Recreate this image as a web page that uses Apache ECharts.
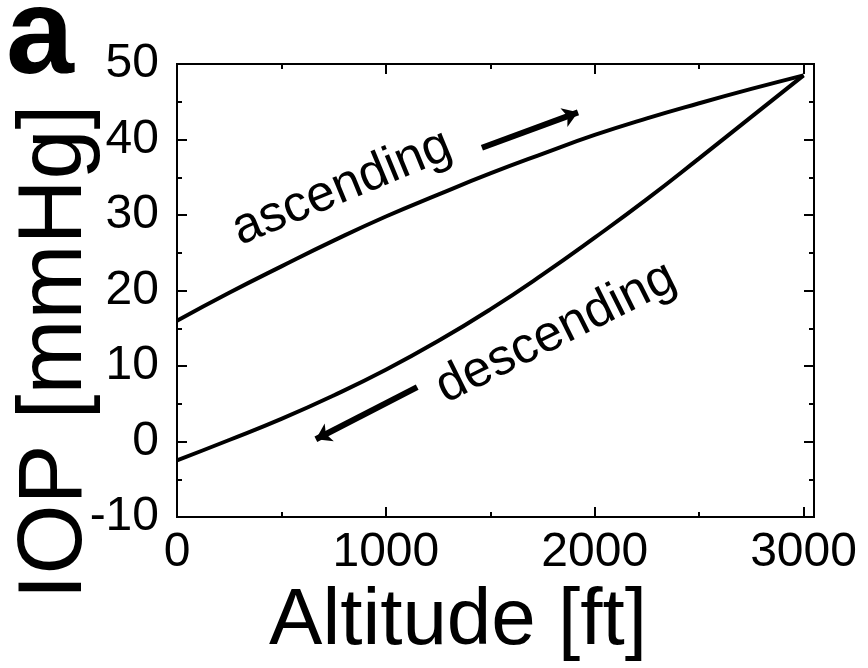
<!DOCTYPE html>
<html>
<head>
<meta charset="utf-8">
<script src="https://cdn.jsdelivr.net/npm/echarts@6/dist/echarts.min.js"></script>
<style>
html, body { margin: 0; padding: 0; background: #fff; }
#chart { width: 868px; height: 668px; }
</style>
</head>
<body>
<div id="chart"></div>
<script>
// altitude steps (ft)
var altitude = [0, 250, 500, 750, 1000, 1250, 1500, 1750, 2000, 2250, 2500, 2750, 3000];
// IOP while going up
var iopAscending = [16, 19.7, 23.2, 26.6, 29.8, 32.7, 35.5, 38.1, 40.6, 42.8, 44.8, 46.7, 48.5];
// IOP while coming down
var iopDescending = [-2.5, 0.2, 3.0, 6.1, 9.5, 13.3, 17.5, 22.1, 27.0, 32.1, 37.5, 43.0, 48.5];

// direction arrows, [altitude, IOP] start -> end
var arrowUp = [[1460, 38.9], [1920, 43.6]];
var arrowDown = [[1150, 7.2], [665, 0.3]];

var xMin = 0, xMax = 3050, xStep = 1000, xMinor = 500;
var yMin = -10, yMax = 50, yStep = 10, yMinor = 5;

var fontName = 'Liberation Sans, Arial, sans-serif';

function pairs(xs, ys) {
	var out = [];
	for (var i = 0; i < xs.length; i++) out.push([xs[i], ys[i]]);
	return out;
}

// one frame axis; ticks always drawn inward, minor ones drawn by a twin axis
function frameAxis(type, pos, min, max, step, tickLen, withLabels) {
	var ax = {
		type: 'value', position: pos, min: min, max: max, interval: step,
		axisLine: { onZero: false, lineStyle: { color: '#000', width: 2 } },
		axisTick: { inside: true, length: tickLen, lineStyle: { color: '#000', width: 2 } },
		splitLine: { show: false },
		axisLabel: { show: false }
	};
	if (withLabels) {
		ax.axisLabel = {
			show: true, color: '#000', fontSize: 48, fontFamily: fontName,
			margin: type === 'x' ? 12 : 18, showMaxLabel: type === 'x' ? false : true,
			formatter: function (v) { return v % step === 0 ? String(v) : ''; }
		};
	}
	return ax;
}

var chart = echarts.init(document.getElementById('chart'));

var option = {
	animation: false,
	grid: { left: 177, right: 54, top: 64, bottom: 151 },
	xAxis: [
		frameAxis('x', 'bottom', xMin, xMax, xStep, 10, true),
		frameAxis('x', 'top', xMin, xMax, xStep, 10, false),
		frameAxis('x', 'bottom', xMin, xMax, xMinor, 5, false),
		frameAxis('x', 'top', xMin, xMax, xMinor, 5, false)
	],
	yAxis: [
		frameAxis('y', 'left', yMin, yMax, yStep, 10, true),
		frameAxis('y', 'right', yMin, yMax, yStep, 10, false),
		frameAxis('y', 'left', yMin, yMax, yMinor, 5, false),
		frameAxis('y', 'right', yMin, yMax, yMinor, 5, false)
	],
	series: [
		{
			name: 'ascending', type: 'line', smooth: true, symbol: 'none',
			lineStyle: { color: '#000', width: 4 },
			data: pairs(altitude, iopAscending),
			markLine: {
				silent: true, symbol: ['none', 'arrow'], symbolSize: 15,
				label: { show: false },
				lineStyle: { color: '#000', width: 6, type: 'solid' },
				data: [[{ coord: arrowUp[0] }, { coord: arrowUp[1] }]]
			}
		},
		{
			name: 'descending', type: 'line', smooth: true, symbol: 'none',
			lineStyle: { color: '#000', width: 4 },
			data: pairs(altitude, iopDescending),
			markLine: {
				silent: true, symbol: ['none', 'arrow'], symbolSize: 15,
				label: { show: false },
				lineStyle: { color: '#000', width: 6, type: 'solid' },
				data: [[{ coord: arrowDown[0] }, { coord: arrowDown[1] }]]
			}
		}
	]
};
chart.setOption(option);

// labels placed from data coordinates
var pUp = chart.convertToPixel({ seriesIndex: 0 }, [790, 33.6]);
var pDown = chart.convertToPixel({ seriesIndex: 0 }, [1815, 14.4]);

chart.setOption({
	graphic: [
		{
			type: 'text', x: pUp[0], y: pUp[1], rotation: 22.5 * Math.PI / 180,
			style: { text: 'ascending', font: '51px ' + fontName, fill: '#000', align: 'center', verticalAlign: 'middle' }
		},
		{
			type: 'text', x: pDown[0], y: pDown[1], rotation: 26.5 * Math.PI / 180,
			style: { text: 'descending', font: '51px ' + fontName, fill: '#000', align: 'center', verticalAlign: 'middle' }
		},
		{
			type: 'text', x: 458, y: 622,
			style: { text: 'Altitude [ft]', font: '80px ' + fontName, fill: '#000', align: 'center', verticalAlign: 'middle' }
		},
		{
			type: 'text', x: 56, y: 352, rotation: Math.PI / 2,
			style: { text: 'IOP [mmHg]', font: '90px ' + fontName, fill: '#000', align: 'center', verticalAlign: 'middle' }
		},
		{
			type: 'text', left: 6, top: -22,
			style: { text: 'a', font: 'bold 122px ' + fontName, fill: '#000' }
		}
	]
});

window.addEventListener('resize', function () { chart.resize(); });
</script>
</body>
</html>
